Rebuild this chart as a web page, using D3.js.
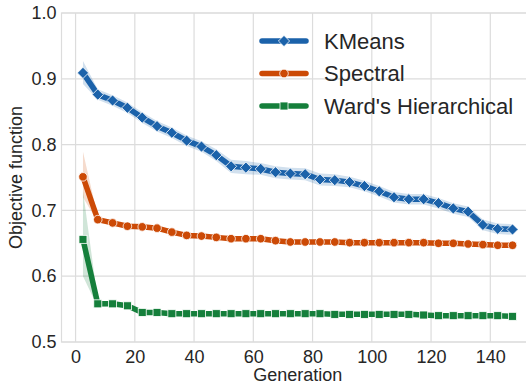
<!DOCTYPE html>
<html>
<head>
<meta charset="utf-8">
<script src="https://cdn.jsdelivr.net/npm/d3@7"></script>
<style>
  body { margin: 0; background: #fff; }
  svg { display: block; font-family: "Liberation Sans", Arial, sans-serif; }
</style>
</head>
<body>
<svg id="chart"></svg>
<script>
var width = 526;
var height = 387;

// generations sampled
var generations = [2.5, 7.5, 12.5, 17.5, 22.5, 27.5, 32.5, 37.5, 42.5, 47.5,
  52.5, 57.5, 62.5, 67.5, 72.5, 77.5, 82.5, 87.5, 92.5, 97.5,
  102.5, 107.5, 112.5, 117.5, 122.5, 127.5, 132.5, 137.5, 142.5, 147.5];

var kmeansMean = [0.909, 0.876, 0.867, 0.856, 0.841, 0.828, 0.818, 0.806, 0.797, 0.784,
  0.767, 0.765, 0.763, 0.758, 0.756, 0.755, 0.747, 0.746, 0.743, 0.737,
  0.729, 0.720, 0.717, 0.717, 0.711, 0.703, 0.698, 0.678, 0.672, 0.671];
var kmeansLo = [0.892, 0.868, 0.859, 0.848, 0.833, 0.820, 0.810, 0.798, 0.789, 0.775,
  0.757, 0.755, 0.754, 0.749, 0.747, 0.746, 0.738, 0.737, 0.735, 0.729,
  0.721, 0.712, 0.709, 0.709, 0.703, 0.695, 0.690, 0.670, 0.664, 0.663];
var kmeansHi = [0.927, 0.884, 0.875, 0.864, 0.849, 0.836, 0.826, 0.814, 0.805, 0.793,
  0.777, 0.775, 0.772, 0.767, 0.765, 0.764, 0.756, 0.755, 0.751, 0.745,
  0.737, 0.728, 0.725, 0.725, 0.719, 0.711, 0.706, 0.686, 0.680, 0.679];

var spectralMean = [0.751, 0.686, 0.681, 0.676, 0.675, 0.673, 0.667, 0.662, 0.661, 0.659,
  0.657, 0.657, 0.657, 0.654, 0.652, 0.652, 0.652, 0.652, 0.651, 0.651,
  0.651, 0.651, 0.651, 0.651, 0.650, 0.650, 0.649, 0.648, 0.647, 0.647];
var spectralLo = [0.720, 0.682, 0.678, 0.673, 0.672, 0.670, 0.664, 0.659, 0.658, 0.656,
  0.654, 0.654, 0.654, 0.651, 0.649, 0.649, 0.649, 0.649, 0.648, 0.648,
  0.648, 0.648, 0.648, 0.648, 0.647, 0.647, 0.646, 0.645, 0.644, 0.644];
var spectralHi = [0.789, 0.690, 0.684, 0.679, 0.678, 0.676, 0.670, 0.665, 0.664, 0.662,
  0.660, 0.660, 0.660, 0.657, 0.655, 0.655, 0.655, 0.655, 0.654, 0.654,
  0.654, 0.654, 0.654, 0.654, 0.653, 0.653, 0.652, 0.651, 0.650, 0.650];

var wardMean = [0.656, 0.558, 0.558, 0.555, 0.545, 0.545, 0.543, 0.543, 0.543, 0.543,
  0.543, 0.543, 0.543, 0.543, 0.543, 0.543, 0.543, 0.542, 0.542, 0.542,
  0.542, 0.542, 0.542, 0.541, 0.540, 0.540, 0.540, 0.540, 0.540, 0.539];
var wardLo = [0.600, 0.553, 0.555, 0.552, 0.543, 0.543, 0.541, 0.541, 0.541, 0.541,
  0.541, 0.541, 0.541, 0.541, 0.541, 0.541, 0.541, 0.540, 0.540, 0.540,
  0.540, 0.540, 0.540, 0.539, 0.538, 0.538, 0.538, 0.538, 0.538, 0.537];
var wardHi = [0.730, 0.563, 0.561, 0.558, 0.547, 0.547, 0.545, 0.545, 0.545, 0.545,
  0.545, 0.545, 0.545, 0.545, 0.545, 0.545, 0.545, 0.544, 0.544, 0.544,
  0.544, 0.544, 0.544, 0.543, 0.542, 0.542, 0.542, 0.542, 0.542, 0.541];

var xTicks = [0, 20, 40, 60, 80, 100, 120, 140];
var yTicks = [0.5, 0.6, 0.7, 0.8, 0.9, 1.0];

var seriesNames = ["KMeans", "Spectral", "Ward's Hierarchical"];

var series = [
  { name: seriesNames[0], mean: kmeansMean, lo: kmeansLo, hi: kmeansHi, color: "#1b62aa", marker: "diamond" },
  { name: seriesNames[1], mean: spectralMean, lo: spectralLo, hi: spectralHi, color: "#cc4a06", marker: "circle" },
  { name: seriesNames[2], mean: wardMean, lo: wardLo, hi: wardHi, color: "#157f3b", marker: "square" }
];

var margin = { left: 61.5, right: -8, top: 13, bottom: 45 };

var svg = d3.select("#chart").attr("width", width).attr("height", height);

var x = d3.scaleLinear()
  .domain([-4.75, 154.75])
  .range([margin.left, width - margin.right]);

var y = d3.scaleLinear()
  .domain([0.5, 1.0])
  .range([height - margin.bottom, margin.top]);

var textColor = "#262626";
var gridColor = "#dcdcdc";

// grid
svg.append("g")
  .selectAll("line")
  .data(xTicks)
  .enter()
  .append("line")
  .attr("x1", function (d) { return x(d); })
  .attr("x2", function (d) { return x(d); })
  .attr("y1", y(0.5))
  .attr("y2", y(1.0))
  .attr("stroke", gridColor)
  .attr("stroke-width", 1.2);

svg.append("g")
  .selectAll("line")
  .data(yTicks)
  .enter()
  .append("line")
  .attr("x1", x.range()[0])
  .attr("x2", x.range()[1])
  .attr("y1", function (d) { return y(d); })
  .attr("y2", function (d) { return y(d); })
  .attr("stroke", gridColor)
  .attr("stroke-width", 1.2);

// spines
svg.append("rect")
  .attr("x", x.range()[0])
  .attr("y", y(1.0))
  .attr("width", x.range()[1] - x.range()[0])
  .attr("height", y(0.5) - y(1.0))
  .attr("fill", "none")
  .attr("stroke", gridColor)
  .attr("stroke-width", 1.2);

// axes (labels only)
var xAxis = svg.append("g")
  .attr("transform", "translate(0," + y(0.5) + ")")
  .call(d3.axisBottom(x).tickValues(xTicks).tickSize(0).tickPadding(8));
var yAxis = svg.append("g")
  .attr("transform", "translate(" + x.range()[0] + ",0)")
  .call(d3.axisLeft(y).tickValues(yTicks).tickFormat(d3.format(".1f")).tickSize(0).tickPadding(5));

[xAxis, yAxis].forEach(function (ax) {
  ax.select(".domain").remove();
  ax.selectAll("text")
    .attr("fill", textColor)
    .style("font-size", "18px")
    .style("font-family", "Liberation Sans, Arial, sans-serif");
});

svg.append("text")
  .attr("x", (margin.left + 526) / 2 + 4)
  .attr("y", 381)
  .attr("text-anchor", "middle")
  .attr("fill", textColor)
  .style("font-size", "18px")
  .text("Generation");

svg.append("text")
  .attr("transform", "translate(22," + (y(0.75)) + ") rotate(-90)")
  .attr("text-anchor", "middle")
  .attr("fill", textColor)
  .style("font-size", "18px")
  .text("Objective function");

var area = d3.area()
  .x(function (d) { return x(d.g); })
  .y0(function (d) { return y(d.lo); })
  .y1(function (d) { return y(d.hi); });

var line = d3.line()
  .x(function (d) { return x(d.g); })
  .y(function (d) { return y(d.v); });

function drawMarker(sel, type, color, cx, cy) {
  if (type === "diamond") {
    sel.append("path")
      .attr("d", "M0,-5.6L5.6,0L0,5.6L-5.6,0Z")
      .attr("transform", "translate(" + cx + "," + cy + ")")
      .attr("fill", color)
      .attr("stroke", "#fff")
      .attr("stroke-width", 0.8);
  } else if (type === "circle") {
    sel.append("circle")
      .attr("cx", cx)
      .attr("cy", cy)
      .attr("r", 4.3)
      .attr("fill", color)
      .attr("stroke", "#fff")
      .attr("stroke-width", 0.8);
  } else {
    sel.append("rect")
      .attr("x", cx - 4)
      .attr("y", cy - 4)
      .attr("width", 8)
      .attr("height", 8)
      .attr("fill", color)
      .attr("stroke", "#fff")
      .attr("stroke-width", 0.8);
  }
}

series.forEach(function (s) {
  var pts = generations.map(function (g, i) {
    return { g: g, v: s.mean[i], lo: s.lo[i], hi: s.hi[i] };
  });
  var g = svg.append("g");
  g.append("path")
    .datum(pts)
    .attr("d", area)
    .attr("fill", s.color)
    .attr("fill-opacity", 0.2);
  g.append("path")
    .datum(pts)
    .attr("d", line)
    .attr("fill", "none")
    .attr("stroke", s.color)
    .attr("stroke-width", 5.5)
    .attr("stroke-linejoin", "round")
    .attr("stroke-linecap", "round");
  pts.forEach(function (p) {
    drawMarker(g, s.marker, s.color, x(p.g), y(p.v));
  });
});

// legend
var legend = svg.append("g");
series.forEach(function (s, i) {
  var ly = 41 + i * 32.5;
  legend.append("line")
    .attr("x1", 262)
    .attr("x2", 306)
    .attr("y1", ly)
    .attr("y2", ly)
    .attr("stroke", s.color)
    .attr("stroke-width", 5.5)
    .attr("stroke-linecap", "round");
  drawMarker(legend, s.marker, s.color, 284, ly);
  legend.append("text")
    .attr("x", 324)
    .attr("y", ly + 7.5)
    .attr("fill", textColor)
    .style("font-size", "22px")
    .text(s.name);
});
</script>
</body>
</html>
